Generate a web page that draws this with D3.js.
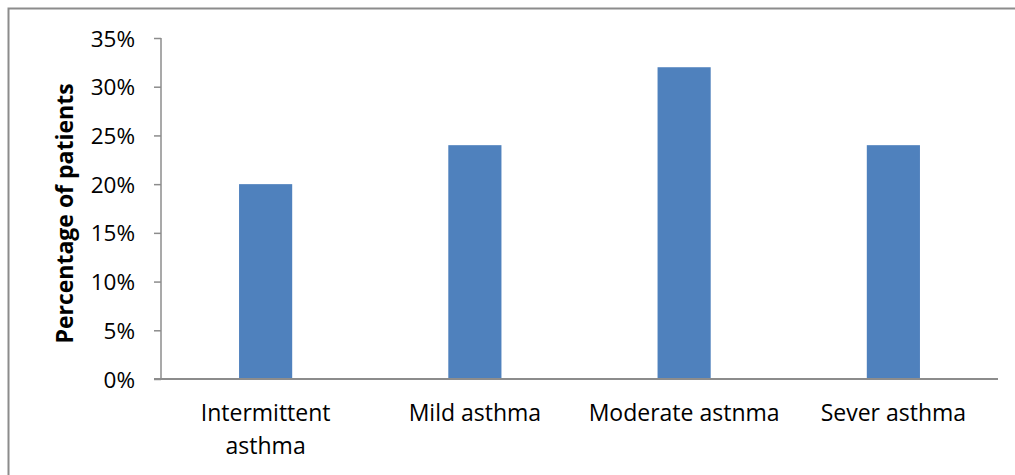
<!DOCTYPE html>
<html>
<head>
<meta charset="utf-8">
<script src="https://cdn.jsdelivr.net/npm/d3@7"></script>
<style>
  body { margin: 0; background: #fff; }
  svg text { font-family: "Open Sans", sans-serif; fill: #000; }
</style>
</head>
<body>
<div id="chart"></div>
<script>
var categories = ['Intermittent asthma', 'Mild asthma', 'Moderate astnma', 'Sever asthma'];
var values = [0.20, 0.24, 0.32, 0.24];
var yTicks = [0, 0.05, 0.10, 0.15, 0.20, 0.25, 0.30, 0.35];

// Setup
var width = 1015, height = 475;
var margin = {left: 161, top: 38, right: 17, bottom: 96};
var chart_width = width - margin.left - margin.right;
var chart_height = height - margin.top - margin.bottom;
var axisColor = '#8c8c8c';

var svg = d3.select('#chart')
  .append('svg')
  .attr('width', width)
  .attr('height', height);

// outer frame
svg.append('rect')
  .attr('x', 8.5).attr('y', 8.5)
  .attr('width', width + 20).attr('height', height + 20)
  .attr('fill', 'none')
  .attr('stroke', axisColor)
  .attr('stroke-width', 2);

var g = svg.append('g')
  .attr('transform', 'translate(' + margin.left + ',' + margin.top + ')');

var x = d3.scaleBand()
  .domain(categories)
  .range([0, chart_width]);

var y = d3.scaleLinear()
  .domain([0, 0.35])
  .range([chart_height, 0]);

var barWidth = x.bandwidth() * 0.254;

// bars
g.selectAll('.bar')
  .data(values)
  .enter()
  .append('rect')
  .attr('class', 'bar')
  .attr('x', function(d, i) { return x(categories[i]) + x.bandwidth()/2 - barWidth/2; })
  .attr('y', function(d) { return y(d); })
  .attr('width', barWidth)
  .attr('height', function(d) { return chart_height - y(d); })
  .attr('fill', '#4f81bd');

// y axis
var yAxis = g.append('g')
  .call(d3.axisLeft(y).tickValues(yTicks).tickSize(7).tickPadding(19)
    .tickFormat(function(d) { return Math.round(d * 100) + '%'; }));
yAxis.selectAll('line').attr('stroke', axisColor).attr('stroke-width', 1.5);
yAxis.select('.domain').attr('stroke', axisColor).attr('stroke-width', 1.5).attr('d', 'M0,' + chart_height + 'V0');
yAxis.selectAll('text').style('font-size', '22.5px').attr('dy', '0.36em');

// x axis
var xAxis = g.append('g')
  .attr('transform', 'translate(0,' + chart_height + ')')
  .call(d3.axisBottom(x).tickSize(0).tickPadding(0));
xAxis.select('.domain').attr('stroke', axisColor).attr('stroke-width', 2).attr('d', 'M-7,0H' + chart_width);
xAxis.selectAll('text').remove();

// category labels (wrapped like the original)
var lines = [['Intermittent', 'asthma'], ['Mild asthma'], ['Moderate astnma'], ['Sever asthma']];
xAxis.selectAll('.tick').each(function(d, i) {
  var t = d3.select(this).append('text')
    .attr('text-anchor', 'middle')
    .style('font-size', '23px')
    .attr('fill', '#000');
  lines[i].forEach(function(l, j) {
    t.append('tspan').attr('x', 0).attr('y', 42 + j * 33).text(l);
  });
});

// y title
svg.append('text')
  .attr('transform', 'translate(73,' + (margin.top + chart_height/2 + 5) + ') rotate(-90)')
  .attr('text-anchor', 'middle')
  .style('font-size', '23px')
  .style('font-weight', 'bold')
  .text('Percentage of patients');
</script>
</body>
</html>
